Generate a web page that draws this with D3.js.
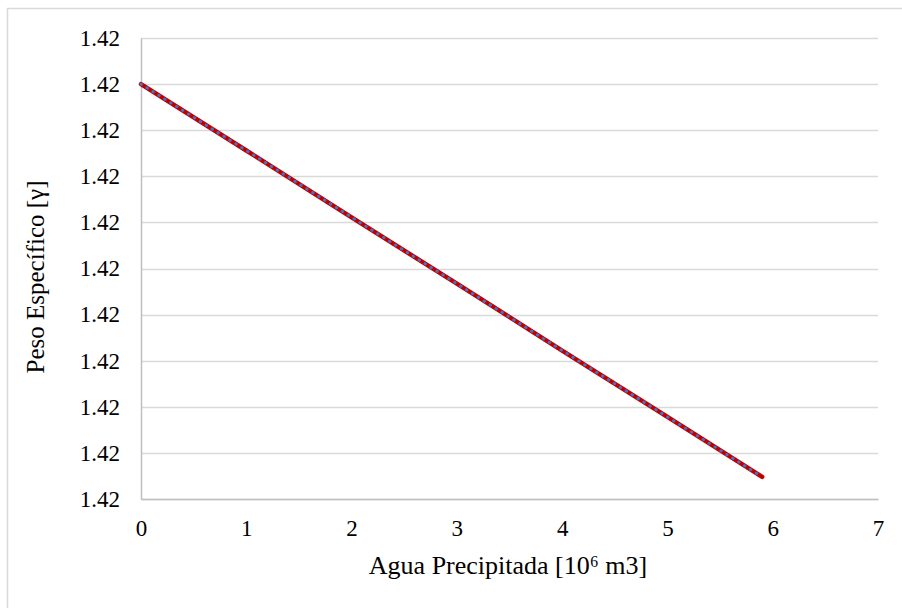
<!DOCTYPE html>
<html><head><meta charset="utf-8">
<script src="https://cdn.jsdelivr.net/npm/d3@7"></script>
<style>body{margin:0;background:#fff}svg{display:block}svg text{font-family:"Liberation Serif","DejaVu Serif",serif !important;fill:#000}</style>
</head><body><svg id="c" width="902" height="608"></svg>
<script>
const xValues = [0, 1, 2, 3, 4, 5, 5.9];
const yValues = [1.41990, 1.419756, 1.419611, 1.419467, 1.419322, 1.419178, 1.419048];
const xTicks = [0, 1, 2, 3, 4, 5, 6, 7];
const yTicks = [1.4190, 1.4191, 1.4192, 1.4193, 1.4194, 1.4195, 1.4196, 1.4197, 1.4198, 1.4199, 1.4200];
const xTitle = "Agua Precipitada [10⁶ m3]";
const yTitle = "Peso Específico [γ]";

(function () {
const FONT = "'Liberation Serif', 'DejaVu Serif', serif";
const svg = d3.select("#c");
const mLeft = 141, mRight = 878, mTop = 38, mBottom = 499;
const x = d3.scaleLinear().domain([0, 7]).range([mLeft, mRight]);
const y = d3.scaleLinear().domain([1.4190, 1.4200]).range([mBottom, mTop]);

svg.append("rect").attr("x", 7.5).attr("y", 8.5).attr("width", 920).attr("height", 620)
  .attr("fill", "#fff").attr("stroke", "#d9d9d9").attr("stroke-width", 1.5);

// gridlines
svg.append("g").selectAll("line").data(yTicks).join("line")
  .attr("x1", mLeft).attr("x2", mRight)
  .attr("y1", d => Math.round(y(d)) + 0.5).attr("y2", d => Math.round(y(d)) + 0.5)
  .attr("stroke", "#d9d9d9").attr("stroke-width", 1.5);

// axes
const yAxis = svg.append("g").attr("transform", `translate(${mLeft},0)`)
  .call(d3.axisLeft(y).tickValues(yTicks).tickFormat(d3.format(".2f")).tickSize(0).tickPadding(21));
yAxis.attr("font-family", FONT).attr("font-size", 23);
yAxis.select(".domain").attr("stroke", "#bfbfbf").attr("stroke-width", 1.5);

const xAxis = svg.append("g").attr("transform", `translate(0,${mBottom})`)
  .call(d3.axisBottom(x).tickValues(xTicks).tickFormat(d3.format("d")).tickSize(0).tickPadding(21));
xAxis.attr("font-family", FONT).attr("font-size", 23);
xAxis.select(".domain").attr("stroke", "#bfbfbf").attr("stroke-width", 1.5);

// series
const pts = xValues.map((v, i) => [v, yValues[i]]);
const line = d3.line().x(d => x(d[0])).y(d => y(d[1]));
svg.append("path").datum(pts).attr("d", line).attr("fill", "none")
  .attr("stroke", "#c00000").attr("stroke-width", 4.5).attr("stroke-linecap", "round");
svg.append("path").datum(pts).attr("d", line).attr("fill", "none")
  .attr("stroke", "#4472c4").attr("stroke-width", 3).attr("stroke-dasharray", "0.5,6.5").attr("stroke-linecap", "round");

// titles
svg.append("text").attr("x", 508).attr("y", 574).attr("text-anchor", "middle")
  .attr("font-family", FONT).attr("font-size", 26).text(xTitle);
svg.append("text").attr("transform", `translate(44,277) rotate(-90)`)
  .attr("text-anchor", "middle").attr("font-family", FONT).attr("font-size", 25).text(yTitle);
})();
</script></body></html>
